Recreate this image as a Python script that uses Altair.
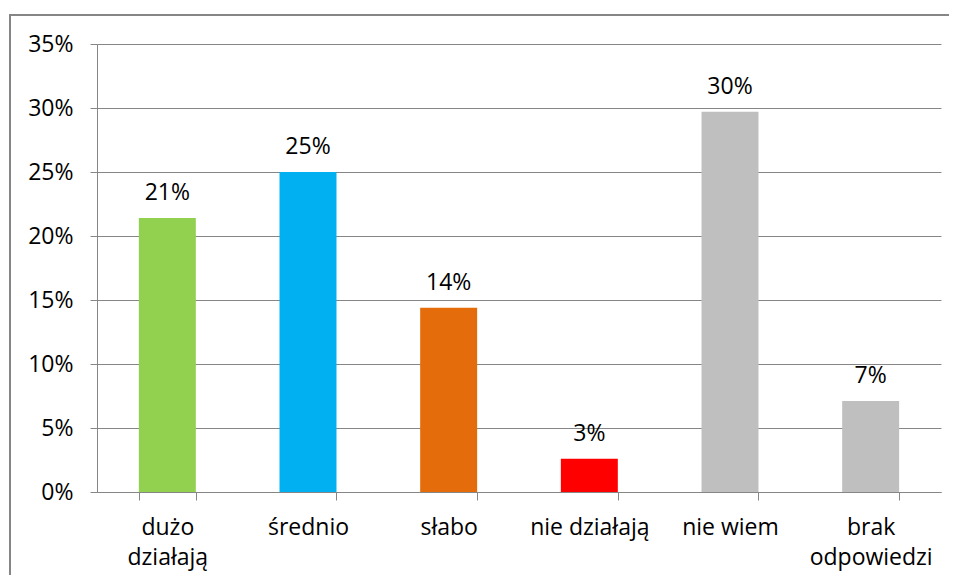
import altair as alt
import pandas as pd

categories = ["dużo\ndziałają", "średnio", "słabo", "nie działają", "nie wiem", "brak\nodpowiedzi"]
values = [0.214, 0.250, 0.144, 0.026, 0.297, 0.071]
colors = ["#92D050", "#00B0F0", "#E46C0A", "#FF0000", "#BFBFBF", "#BFBFBF"]
y_ticks = [0, 0.05, 0.10, 0.15, 0.20, 0.25, 0.30, 0.35]

df = pd.DataFrame({"cat": categories, "val": values})

FONT = "Open Sans"
GRAY = "#868686"
FS = 23
W, H = 844, 448

x_enc = alt.X(
    "cat:N",
    sort=categories,
    title=None,
    scale=alt.Scale(paddingInner=0.595, paddingOuter=0.2975),
    axis=alt.Axis(
        labelAngle=0,
        labelExpr="split(datum.label, '\\n')",
        labelFont=FONT,
        labelFontSize=FS,
        labelColor="#000000",
        labelLineHeight=30,
        labelPadding=16,
        tickBand="extent",
        tickSize=8,
        tickColor=GRAY,
        domainColor=GRAY,
        grid=False,
    ),
)
y_enc = alt.Y(
    "val:Q",
    title=None,
    scale=alt.Scale(domain=[0, 0.35], nice=False),
    axis=alt.Axis(
        values=y_ticks,
        format=".0%",
        labelFont=FONT,
        labelFontSize=FS,
        labelColor="#000000",
        labelPadding=17,
        tickSize=7,
        tickColor=GRAY,
        domainColor=GRAY,
        gridColor=GRAY,
        grid=True,
    ),
)

bars = alt.Chart(df).mark_bar().encode(
    x=x_enc,
    y=y_enc,
    color=alt.Color("cat:N", scale=alt.Scale(domain=categories, range=colors), legend=None),
)

labels = alt.Chart(df).mark_text(
    dy=-18, baseline="alphabetic", font=FONT, fontSize=FS, color="#000000"
).encode(
    x=alt.X("cat:N", sort=categories),
    y=alt.Y("val:Q"),
    text=alt.Text("val:Q", format=".0%"),
)

frame = alt.Chart(pd.DataFrame({"a": [0]})).mark_rect(
    fillOpacity=0, stroke=GRAY, strokeWidth=2
).encode(
    x=alt.value(-87), x2=alt.value(W + 40), y=alt.value(-29), y2=alt.value(H + 200)
)

chart = alt.layer(frame, bars, labels).properties(
    width=W,
    height=H,
    autosize=alt.AutoSizeParams(type="none"),
    padding={"left": 89, "top": 36, "right": 8, "bottom": 83},
).configure_view(stroke=None)

chart.save("out.html", embed_options={"renderer": "svg", "actions": False})
